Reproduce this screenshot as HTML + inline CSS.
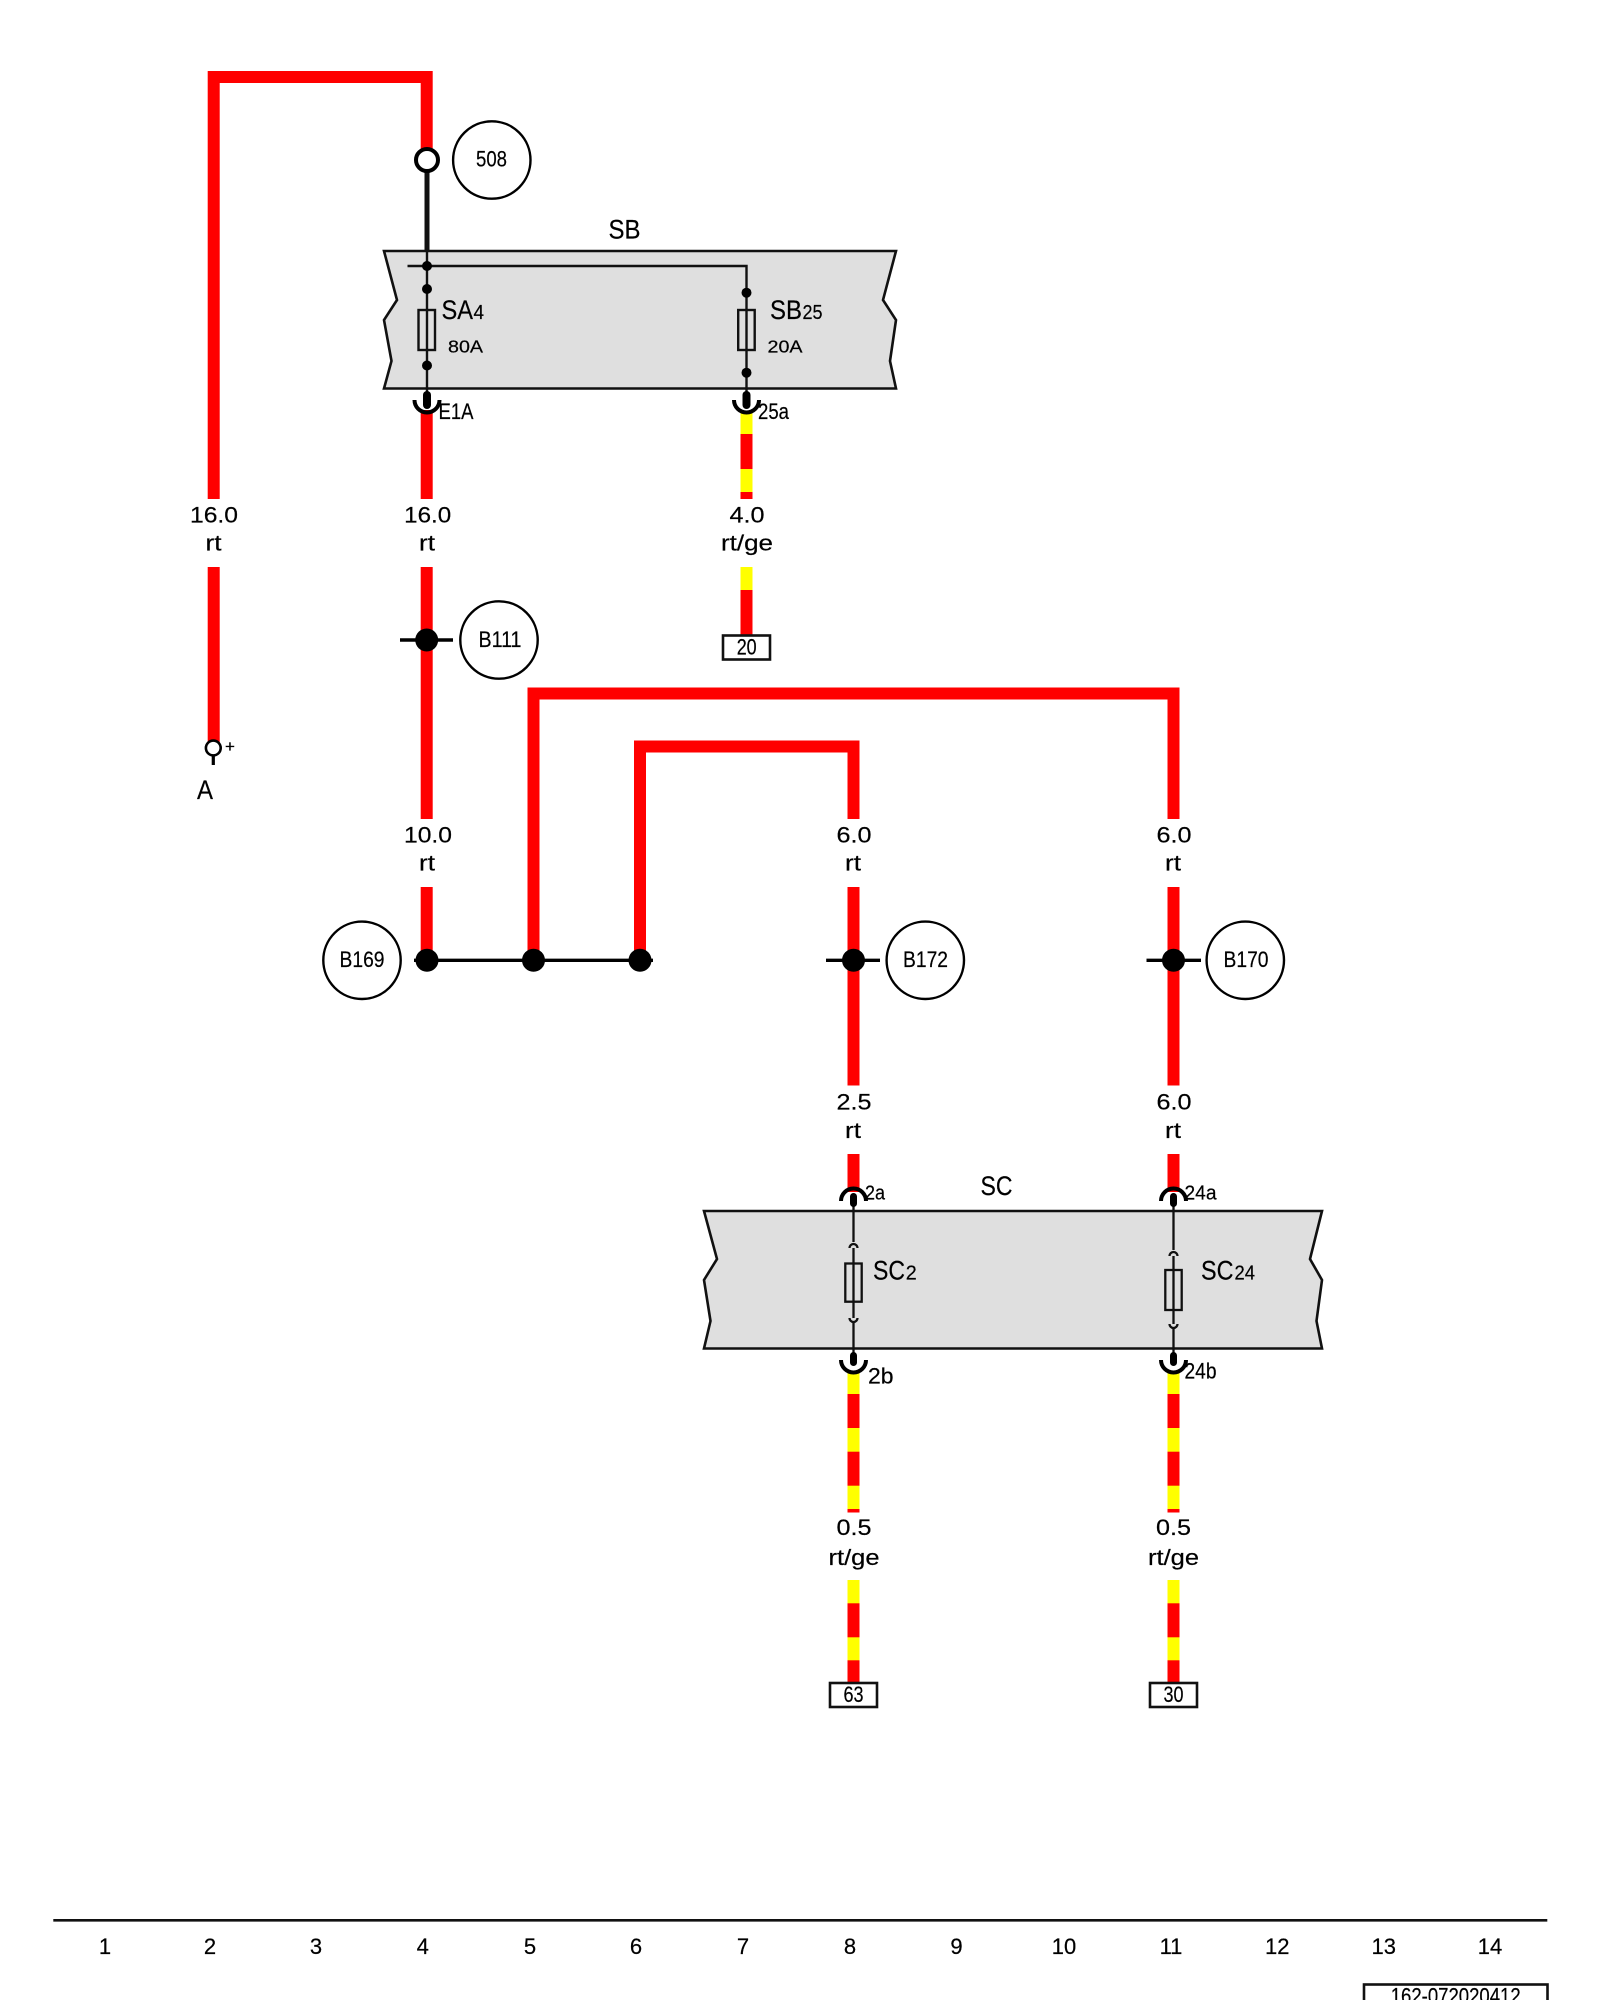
<!DOCTYPE html>
<html>
<head>
<meta charset="utf-8">
<style>
html,body{margin:0;padding:0;background:#fff;width:1600px;height:2000px;overflow:hidden}
svg{display:block}
text{font-family:"Liberation Sans",sans-serif;font-size:22px;fill:#000;stroke:#000;stroke-width:.2px}
.m{text-anchor:middle}
.b{font-size:27px}
.s{font-size:20px}
</style>
</head>
<body>
<svg width="1600" height="2000" viewBox="0 0 1600 2000" xmlns="http://www.w3.org/2000/svg">
<rect width="1600" height="2000" fill="#fff"/>

<!-- boxes -->
<path d="M384 251 L397 300 L384 320 L391.5 361 L384 388.5 H896 L890 361 L896 320 L883 300 L896 251 Z" fill="#dfdfdf" stroke="#111" stroke-width="2.6" stroke-linejoin="miter"/>
<path d="M704 1211 L717 1259 L704 1280 L710.5 1321 L704 1348.5 H1322 L1316.5 1321 L1322 1280 L1310 1259 L1322 1211 Z" fill="#dfdfdf" stroke="#111" stroke-width="2.6"/>

<!-- red wires -->
<g fill="none" stroke="#ff0000" stroke-width="12" stroke-linejoin="miter">
<path d="M213.7 499 V77 H426.7 V150"/>
<path d="M213.7 567 V745"/>
<path d="M426.7 410 V499"/>
<path d="M426.7 567 V819"/>
<path d="M426.7 887 V960"/>
<path d="M533.5 960 V693.5 H1173.5 V819"/>
<path d="M640 960 V746.5 H853.5 V819"/>
<path d="M853.5 887 V1085.5"/>
<path d="M1173.5 887 V1085.5"/>
<path d="M853.5 1154 V1192"/>
<path d="M1173.5 1154 V1192"/>
</g>

<!-- striped wires -->
<g fill="#ff0000">
<rect x="740.5" y="412" width="12" height="87"/>
<rect x="740.5" y="567" width="12" height="68"/>
<rect x="847.5" y="1372" width="12" height="140.5"/>
<rect x="1167.5" y="1372" width="12" height="140.5"/>
<rect x="847.5" y="1580" width="12" height="103"/>
<rect x="1167.5" y="1580" width="12" height="103"/>
</g>
<g fill="#ffff00">
<rect x="740.5" y="412" width="12" height="22"/>
<rect x="740.5" y="469" width="12" height="23"/>
<rect x="740.5" y="567" width="12" height="23"/>
<rect x="847.5" y="1372" width="12" height="22"/>
<rect x="847.5" y="1428" width="12" height="23.7"/>
<rect x="847.5" y="1485.7" width="12" height="23.3"/>
<rect x="847.5" y="1580" width="12" height="23.3"/>
<rect x="847.5" y="1637.3" width="12" height="23"/>
<rect x="1167.5" y="1372" width="12" height="22"/>
<rect x="1167.5" y="1428" width="12" height="23.7"/>
<rect x="1167.5" y="1485.7" width="12" height="23.3"/>
<rect x="1167.5" y="1580" width="12" height="23.3"/>
<rect x="1167.5" y="1637.3" width="12" height="23"/>
</g>

<!-- 508 node and thick lead -->
<line x1="427" y1="170" x2="427" y2="251" stroke="#111" stroke-width="5"/>
<circle cx="427" cy="160" r="11" fill="#fff" stroke="#000" stroke-width="4"/>

<!-- SB internals -->
<g fill="none" stroke="#111" stroke-width="2.4">
<path d="M407.5 266 H746.5 V395"/>
<path d="M427 251 V395"/>
<rect x="418.5" y="310" width="16.5" height="40"/>
<rect x="738.2" y="310" width="16.5" height="40"/>
</g>
<g fill="#000">
<circle cx="427" cy="266" r="5"/>
<circle cx="427" cy="289" r="5"/>
<circle cx="427" cy="365.5" r="5"/>
<circle cx="746.5" cy="292.7" r="5"/>
<circle cx="746.5" cy="372.7" r="5"/>
<rect x="423" y="391" width="8" height="18" rx="4"/>
<rect x="742.5" y="391" width="8" height="18" rx="4"/>
</g>
<g fill="none" stroke="#000" stroke-width="4">
<path d="M414.5 400 A12.5 12.5 0 0 0 439.5 400"/>
<path d="M734 400 A12.5 12.5 0 0 0 759 400"/>
</g>

<!-- SC internals -->
<g fill="none" stroke="#111" stroke-width="2.3">
<path d="M853.5 1204 V1242 M853.5 1248 V1318 M853.5 1322 V1356"/>
<path d="M1173.5 1204 V1250 M1173.5 1256 V1324 M1173.5 1328 V1356"/>
<path d="M849.5 1248 A4 4 0 0 1 857.5 1248"/>
<path d="M849.5 1318 A4 4 0 0 0 857.5 1318"/>
<path d="M1169.5 1256 A4 4 0 0 1 1177.5 1256"/>
<path d="M1169.5 1324 A4 4 0 0 0 1177.5 1324"/>
<rect x="845.3" y="1263.5" width="16.4" height="38.2" fill="#dfdfdf"/>
<rect x="1165.3" y="1270" width="16.4" height="40" fill="#dfdfdf"/>
<path d="M853.5 1263.5 V1301.7 M1173.5 1270 V1310"/>
</g>
<g fill="#000">
<rect x="850" y="1193" width="7" height="14" rx="3.5"/>
<rect x="1170" y="1193" width="7" height="14" rx="3.5"/>
<rect x="850" y="1352" width="7" height="14" rx="3.5"/>
<rect x="1170" y="1352" width="7" height="14" rx="3.5"/>
</g>
<g fill="none" stroke="#000" stroke-width="4">
<path d="M841 1201 A12.5 12.5 0 0 1 866 1201"/>
<path d="M1161 1201 A12.5 12.5 0 0 1 1186 1201"/>
<path d="M841 1360 A12.5 12.5 0 0 0 866 1360"/>
<path d="M1161 1360 A12.5 12.5 0 0 0 1186 1360"/>
</g>

<!-- terminal A -->
<circle cx="213.3" cy="748" r="7.4" fill="#fff" stroke="#000" stroke-width="2.6"/>
<line x1="213.3" y1="755" x2="213.3" y2="765" stroke="#000" stroke-width="3.2"/>
<text x="230" y="752" class="m" style="font-size:17px">+</text>
<text x="205" y="799" class="m b" textLength="16" lengthAdjust="spacingAndGlyphs">A</text>

<!-- junctions -->
<g stroke="#000" stroke-width="3.4">
<line x1="400" y1="640" x2="453" y2="640"/>
<line x1="414" y1="960.3" x2="653" y2="960.3"/>
<line x1="826" y1="960.3" x2="880" y2="960.3"/>
<line x1="1146.5" y1="960.3" x2="1201" y2="960.3"/>
</g>
<g fill="#000">
<circle cx="426.7" cy="640" r="11.5"/>
<circle cx="427" cy="960.3" r="11.5"/>
<circle cx="533.5" cy="960.3" r="11.5"/>
<circle cx="640" cy="960.3" r="11.5"/>
<circle cx="853.5" cy="960.3" r="11.5"/>
<circle cx="1173.5" cy="960.3" r="11.5"/>
</g>

<!-- callout circles -->
<g fill="#fff" stroke="#000" stroke-width="2.4">
<circle cx="491.8" cy="160" r="38.7"/>
<circle cx="499" cy="640" r="38.7"/>
<circle cx="362" cy="960.3" r="38.7"/>
<circle cx="925.3" cy="960.3" r="38.7"/>
<circle cx="1245.3" cy="960.3" r="38.7"/>
</g>
<text x="491.5" y="166.7" class="m" textLength="31" lengthAdjust="spacingAndGlyphs">508</text>
<text x="500" y="647" class="m" textLength="43" lengthAdjust="spacingAndGlyphs">B111</text>
<text x="362" y="967" class="m" textLength="45" lengthAdjust="spacingAndGlyphs">B169</text>
<text x="925.5" y="967" class="m" textLength="45" lengthAdjust="spacingAndGlyphs">B172</text>
<text x="1246" y="967" class="m" textLength="45" lengthAdjust="spacingAndGlyphs">B170</text>

<!-- wire labels -->
<g class="m">
<text x="214" y="522.7" class="m" textLength="48" lengthAdjust="spacingAndGlyphs">16.0</text>
<text x="213.5" y="550.7" class="m" textLength="16" lengthAdjust="spacingAndGlyphs">rt</text>
<text x="427.7" y="522.7" class="m" textLength="47" lengthAdjust="spacingAndGlyphs">16.0</text>
<text x="427" y="550.7" class="m" textLength="16" lengthAdjust="spacingAndGlyphs">rt</text>
<text x="747" y="522.7" class="m" textLength="35" lengthAdjust="spacingAndGlyphs">4.0</text>
<text x="747" y="550.7" class="m" textLength="52" lengthAdjust="spacingAndGlyphs">rt/ge</text>
<text x="428" y="842.7" class="m" textLength="48" lengthAdjust="spacingAndGlyphs">10.0</text>
<text x="427" y="870.7" class="m" textLength="16" lengthAdjust="spacingAndGlyphs">rt</text>
<text x="854" y="842.7" class="m" textLength="35" lengthAdjust="spacingAndGlyphs">6.0</text>
<text x="853" y="870.7" class="m" textLength="16" lengthAdjust="spacingAndGlyphs">rt</text>
<text x="1174" y="842.7" class="m" textLength="35" lengthAdjust="spacingAndGlyphs">6.0</text>
<text x="1173" y="870.7" class="m" textLength="16" lengthAdjust="spacingAndGlyphs">rt</text>
<text x="854" y="1109.3" class="m" textLength="35" lengthAdjust="spacingAndGlyphs">2.5</text>
<text x="853" y="1138" class="m" textLength="16" lengthAdjust="spacingAndGlyphs">rt</text>
<text x="1174" y="1109.3" class="m" textLength="35" lengthAdjust="spacingAndGlyphs">6.0</text>
<text x="1173" y="1138" class="m" textLength="16" lengthAdjust="spacingAndGlyphs">rt</text>
<text x="854" y="1535" class="m" textLength="35" lengthAdjust="spacingAndGlyphs">0.5</text>
<text x="854" y="1565" class="m" textLength="51" lengthAdjust="spacingAndGlyphs">rt/ge</text>
<text x="1173.5" y="1535" class="m" textLength="35" lengthAdjust="spacingAndGlyphs">0.5</text>
<text x="1173.5" y="1565" class="m" textLength="51" lengthAdjust="spacingAndGlyphs">rt/ge</text>
</g>

<!-- destination boxes -->
<g fill="#fff" stroke="#111" stroke-width="2.6">
<rect x="723" y="635.5" width="47" height="24"/>
<rect x="830" y="1683" width="47" height="24"/>
<rect x="1150" y="1683" width="47" height="24"/>
</g>
<text x="746.7" y="654.5" class="m" textLength="20" lengthAdjust="spacingAndGlyphs">20</text>
<text x="853.5" y="1702" class="m" textLength="20" lengthAdjust="spacingAndGlyphs">63</text>
<text x="1173.5" y="1702" class="m" textLength="20" lengthAdjust="spacingAndGlyphs">30</text>

<!-- box and fuse labels -->
<text x="608.5" y="238.7" class="b" textLength="32" lengthAdjust="spacingAndGlyphs">SB</text>
<text x="441.5" y="319" class="b" textLength="31.5" lengthAdjust="spacingAndGlyphs">SA</text>
<text x="473.5" y="319" class="s" textLength="10.5" lengthAdjust="spacingAndGlyphs">4</text>
<text x="448" y="352.7" style="font-size:17.5px" textLength="35" lengthAdjust="spacingAndGlyphs">80A</text>
<text x="770" y="319" class="b" textLength="32" lengthAdjust="spacingAndGlyphs">SB</text>
<text x="802.5" y="319" class="s" textLength="20" lengthAdjust="spacingAndGlyphs">25</text>
<text x="767.5" y="352.7" style="font-size:17.5px" textLength="35" lengthAdjust="spacingAndGlyphs">20A</text>
<text x="438.5" y="419" textLength="35" lengthAdjust="spacingAndGlyphs">E1A</text>
<text x="758" y="419" textLength="31" lengthAdjust="spacingAndGlyphs">25a</text>

<text x="980.5" y="1195" class="b" textLength="32" lengthAdjust="spacingAndGlyphs">SC</text>
<text x="873" y="1279.3" class="b" textLength="32" lengthAdjust="spacingAndGlyphs">SC</text>
<text x="905.8" y="1279.3" class="s" textLength="11" lengthAdjust="spacingAndGlyphs">2</text>
<text x="1201" y="1279.3" class="b" textLength="32.5" lengthAdjust="spacingAndGlyphs">SC</text>
<text x="1234.5" y="1279.3" class="s" textLength="20.5" lengthAdjust="spacingAndGlyphs">24</text>
<text x="865" y="1199.3" class="s" textLength="20" lengthAdjust="spacingAndGlyphs">2a</text>
<text x="1184.5" y="1199.3" class="s" textLength="32" lengthAdjust="spacingAndGlyphs">24a</text>
<text x="868" y="1383.3" textLength="25.5" lengthAdjust="spacingAndGlyphs">2b</text>
<text x="1184.5" y="1378.3" textLength="32" lengthAdjust="spacingAndGlyphs">24b</text>

<!-- footer -->
<line x1="53.3" y1="1920.3" x2="1547.3" y2="1920.3" stroke="#111" stroke-width="2.6"/>
<g text-anchor="middle">
<text x="105" y="1954">1</text>
<text x="210" y="1954">2</text>
<text x="316" y="1954">3</text>
<text x="422.7" y="1954">4</text>
<text x="530" y="1954">5</text>
<text x="636" y="1954">6</text>
<text x="743" y="1954">7</text>
<text x="850" y="1954">8</text>
<text x="956.5" y="1954">9</text>
<text x="1064" y="1954">10</text>
<text x="1171" y="1954">11</text>
<text x="1277.3" y="1954">12</text>
<text x="1383.7" y="1954">13</text>
<text x="1490" y="1954">14</text>
</g>
<rect x="1364" y="1984.5" width="183.5" height="30" fill="#fff" stroke="#111" stroke-width="2.6"/>
<text x="1455.7" y="2003.5" class="m" textLength="130" lengthAdjust="spacingAndGlyphs">162-072020412</text>
</svg>
</body>
</html>
